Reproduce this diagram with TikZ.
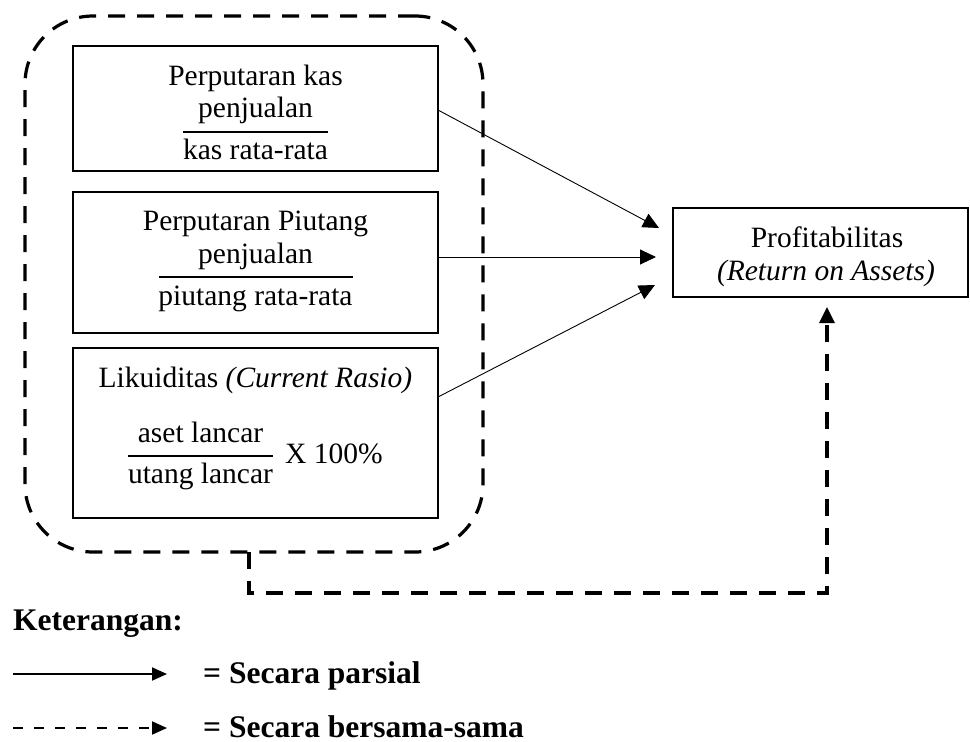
\documentclass[tikz,border=0pt]{standalone}
\usepackage{fontspec}
\setmainfont{Liberation Serif}
\usetikzlibrary{arrows.meta}
\begin{document}
\begin{tikzpicture}[x=1pt,y=-1pt,
  box/.style={draw, line width=1.3pt, inner sep=0pt},
  txt/.style={anchor=base, inner sep=0pt, font=\fontsize{29.5}{34}\selectfont},
  legtxt/.style={anchor=base west, inner sep=0pt, font=\fontsize{31.5}{36}\selectfont\bfseries},
  fracbar/.style={line width=1.3pt},
  thinarrow/.style={line width=0.9pt, -{Triangle[length=16pt,width=15pt]}},
  bigdash/.style={line width=3.2pt, dash pattern=on 17pt off 12pt},
  legarrow/.style={line width=2pt, -{Triangle[length=15pt,width=13pt]}}
]
\useasboundingbox (0,0) rectangle (970,742);

% dashed group
\node[bigdash, draw, rounded corners=68pt, minimum width=458pt, minimum height=536pt, inner sep=0pt] (grp) at (254,284) {};

% boxes
\node[box, minimum width=365pt, minimum height=125pt] (b1) at (255.5,108.5) {};
\node[box, minimum width=365pt, minimum height=141pt] (b2) at (255.5,262.5) {};
\node[box, minimum width=365pt, minimum height=170pt] (b3) at (255.5,433) {};
\node[box, minimum width=295pt, minimum height=89pt] (pr) at (820.5,252.5) {};

% box 1 text
\node[txt] (t1a) at (255.5,85) {Perputaran kas};
\node[txt] (t1b) at (255.5,117) {penjualan};
\node[txt] (t1c) at (255.5,159) {kas rata-rata};
\coordinate (f1l) at (183,132); \coordinate (f1r) at (328,132);
\draw[fracbar] (f1l) -- (f1r);

% box 2 text
\node[txt] (t2a) at (255.5,230) {Perputaran Piutang};
\node[txt] (t2b) at (255.5,263) {penjualan};
\node[txt] (t2c) at (255.5,305) {piutang rata-rata};
\coordinate (f2l) at (159,277); \coordinate (f2r) at (353,277);
\draw[fracbar] (f2l) -- (f2r);

% box 3 text
\node[txt] (t3a) at (255.5,387) {Likuiditas \textit{(Current Rasio)}};
\node[txt] (t3b) at (200.5,442) {aset lancar};
\node[txt] (t3c) at (200.5,483) {utang lancar};
\node[txt, anchor=base west] (t3d) at (285,463) {X 100\%};
\coordinate (f3l) at (128,456); \coordinate (f3r) at (273,456);
\draw[fracbar] (f3l) -- (f3r);

% profitabilitas text
\node[txt] (pra) at (827,247) {Profitabilitas};
\node[txt] (prb) at (826,280) {\textit{(Return on Assets)}};

% partial arrows
\coordinate (s1) at (438,110); \coordinate (e1) at (659,228);
\coordinate (s2) at (438,257); \coordinate (e2) at (656,257);
\coordinate (s3) at (438,397); \coordinate (e3) at (655,285);
\draw[thinarrow] (s1) -- (e1);
\draw[thinarrow] (s2) -- (e2);
\draw[thinarrow] (s3) -- (e3);

% simultaneous arrow
\coordinate (d0) at (249,552);
\coordinate (d1) at (249,593);
\coordinate (d2) at (827,593);
\coordinate (d3) at (827,307);
\draw[bigdash, -{Triangle[length=16pt,width=15pt]}] (d0) -- (d1) -- (d2) -- (d3);

% legend
\node[legtxt] (ket) at (13,630) {Keterangan:};
\coordinate (l1a) at (13,674); \coordinate (l1b) at (167,674);
\draw[legarrow] (l1a) -- (l1b);
\node[legtxt] (leg1) at (203,683) {= Secara parsial};
\coordinate (l2a) at (13,728); \coordinate (l2b) at (167,728);
\draw[legarrow, dash pattern=on 10pt off 11pt] (l2a) -- (l2b);
\node[legtxt] (leg2) at (203,737) {= Secara bersama-sama};
\end{tikzpicture}
\end{document}
